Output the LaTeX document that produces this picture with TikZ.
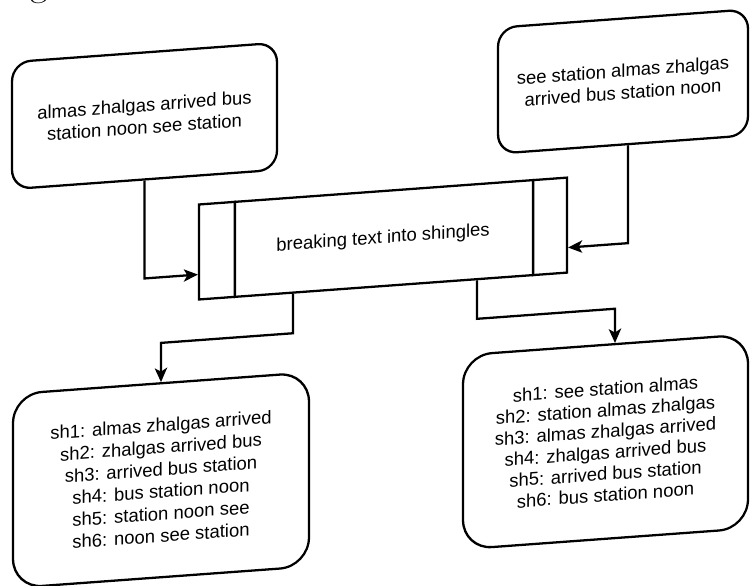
\documentclass[tikz,border=0pt]{standalone}
\usepackage{fontspec}
\newfontfamily\diagfont{Liberation Sans}
\usetikzlibrary{arrows.meta}

\begin{document}
\begin{tikzpicture}[x=0.02cm, y=-0.02cm,
  line width=1.3pt,
  card/.style={draw, rounded corners=#1, align=center, inner sep=0pt,
    font=\diagfont\fontsize{10.5}{12.6}\selectfont},
  procbox/.style={draw, align=center, inner sep=0pt,
    font=\diagfont\fontsize{10.5}{12.6}\selectfont},
  arr/.style={-{Stealth[length=8pt,width=7pt,inset=2pt]}}
]
\useasboundingbox (0,0) rectangle (750,585);

% the whole page is slightly skewed
\begin{scope}[transform canvas={cm={1,0.073,0,1,(0,0)}}]

  % tail of the running text above the figure
  \node[anchor=base west, inner sep=0pt, font=\fontsize{22}{26}\selectfont]
    (txt) at (0,-1.5) {ings};

  % inputs
  \node[card=0.38cm, minimum width=5.30cm, minimum height=2.54cm]
    (in1) at (144.5,126.5) {almas zhalgas arrived bus\\station noon see station};
  \node[card=0.38cm, minimum width=5.00cm, minimum height=2.52cm]
    (in2) at (623,127) {see station almas zhalgas\\arrived bus station noon};

  % process
  \node[procbox, minimum width=7.36cm, minimum height=1.90cm]
    (proc) at (383,266.5) {breaking text into shingles};
  \draw ([xshift=0.74cm]proc.north west) -- ([xshift=0.74cm]proc.south west);
  \draw ([xshift=-0.70cm]proc.north east) -- ([xshift=-0.70cm]proc.south east);

  % outputs
  \node[card=0.58cm, minimum width=5.92cm, minimum height=3.88cm]
    (out1) at (161,492) {sh1: almas zhalgas arrived\\sh2: zhalgas arrived bus\\sh3: arrived bus station\\sh4: bus station noon\\sh5: station noon see\\sh6: noon see station};
  \node[card=0.58cm, minimum width=5.70cm, minimum height=3.88cm,
        font=\diagfont\fontsize{10.5}{12.1}\selectfont]
    (out2) at (605.5,486) {sh1: see station almas\\sh2: station almas zhalgas\\sh3: almas zhalgas arrived\\sh4: zhalgas arrived bus\\sh5: arrived bus station\\sh6: bus station noon};

  % connectors
  \draw[arr] (in1.south) |- ([yshift=-0.45cm]proc.west);
  \draw[arr] ([xshift=0.10cm]in2.south) |- ([yshift=-0.45cm]proc.east);
  \draw[arr] ([xshift=-1.80cm]proc.south) -- ++(0,39.5) -| (out1.north);
  \draw[arr] ([xshift=1.88cm]proc.south) -- ++(0,38.5) -| ([xshift=0.19cm]out2.north);
\end{scope}
\end{tikzpicture}
\end{document}
